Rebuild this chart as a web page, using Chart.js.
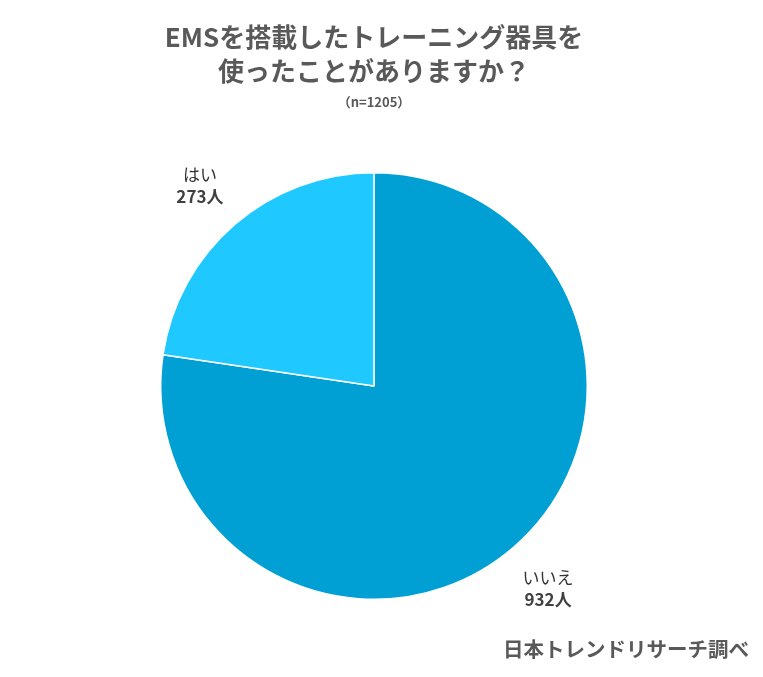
<!DOCTYPE html>
<html>
<head>
<meta charset="utf-8">
<script src="https://cdn.jsdelivr.net/npm/chart.js@4"></script>
<style>
  html, body { margin: 0; padding: 0; background: #fff; }
  #wrap { width: 763px; height: 677px; position: relative; }
</style>
</head>
<body>
<div id="wrap"><canvas id="pie" width="763" height="677"></canvas></div>
<script>
const titleLines = ["EMSを搭載したトレーニング器具を", "使ったことがありますか？"];
const subtitle = "（n=1205）";
const source = "日本トレンドリサーチ調べ";

const categories = ["いいえ", "はい"];
const counts = [932, 273];
const colors = ["#00A0D5", "#1FC8FF"];

const FONT = "'Noto Sans CJK JP', 'Noto Sans', sans-serif";
const GRAY = "#595959";

// titles, slice labels and source line
const textPlugin = {
  id: "texts",
  afterDraw(chart) {
    const ctx = chart.ctx;
    ctx.save();
    ctx.fillStyle = GRAY;
    ctx.textAlign = "center";
    ctx.textBaseline = "middle";
    ctx.font = "bold 26px " + FONT;
    ctx.fillText(titleLines[0], 374, 37);
    ctx.fillText(titleLines[1], 374, 71);
    ctx.font = "bold 13px " + FONT;
    ctx.fillText(subtitle, 374, 102);

    const meta = chart.getDatasetMeta(0);
    meta.data.forEach((arc, i) => {
      const mid = (arc.startAngle + arc.endAngle) / 2;
      const r = arc.outerRadius * 1.25;
      const x = arc.x + Math.cos(mid) * r;
      const y = arc.y + Math.sin(mid) * r;
      ctx.fillStyle = "#333";
      ctx.font = "17px " + FONT;
      ctx.fillText(categories[i], x, y - 10);
      ctx.fillStyle = "#404040";
      ctx.font = "bold 17px " + FONT;
      ctx.fillText(counts[i] + "人", x, y + 12);
    });

    ctx.fillStyle = GRAY;
    ctx.textAlign = "right";
    ctx.font = "bold 20.5px " + FONT;
    ctx.fillText(source, 749, 649);
    ctx.restore();
  }
};

new Chart(document.getElementById("pie"), {
  type: "pie",
  data: {
    labels: categories,
    datasets: [{
      data: counts,
      backgroundColor: colors,
      borderColor: "#ffffff",
      borderWidth: 1.5
    }]
  },
  options: {
    responsive: false,
    animation: false,
    layout: { padding: { left: 160, right: 175, top: 172, bottom: 77 } },
    plugins: {
      legend: { display: false },
      tooltip: { enabled: false }
    }
  },
  plugins: [textPlugin]
});
</script>
</body>
</html>
